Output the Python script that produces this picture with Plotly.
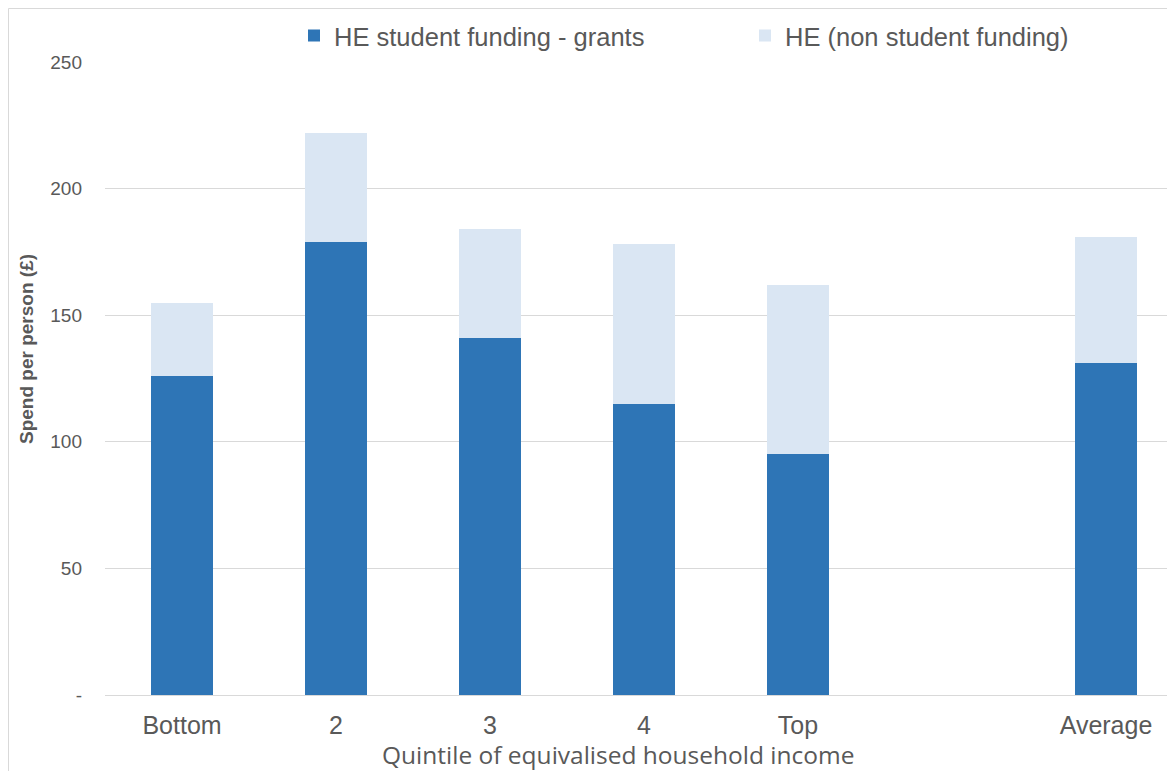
import plotly.graph_objects as go

categories = ["Bottom", "2", "3", "4", "Top", " ", "Average"]
grants = [126, 179, 141, 115, 95, None, 131]
non_student = [29, 43, 43, 63, 67, None, 50]
y_tickvals = [0, 50, 100, 150, 200, 250]
y_ticktext = ["-", "50", "100", "150", "200", "250"]

# page has an 8px body margin; size the figure so the plot lands where the reference has it
OFF = 8
W, H = 1175 - OFF, 771 - OFF
ML, MT, MB = 105 - OFF, 62 - OFF, 76
plot_w = W - ML
plot_h = H - MT - MB


def px_x(page_x):
    return (page_x - OFF - ML) / plot_w


def px_y(page_y):
    return 1 - (page_y - OFF - MT) / plot_h


fig = go.Figure()
fig.add_trace(go.Bar(x=categories, y=grants, name="HE student funding - grants",
                     marker=dict(color="#2E75B6", line=dict(width=0)), legend="legend"))
fig.add_trace(go.Bar(x=categories, y=non_student, name="HE (non student funding)",
                     marker=dict(color="#DAE6F3", line=dict(width=0)), legend="legend2"))

leg_common = dict(orientation="h", yanchor="middle", bgcolor="rgba(0,0,0,0)",
                  font=dict(size=25.5, color="#595959"))
fig.update_layout(
    width=W, height=H,
    barmode="stack", bargap=0.6,
    plot_bgcolor="white", paper_bgcolor="white",
    margin=dict(l=ML, r=0, t=MT, b=MB, pad=0, autoexpand=False),
    font=dict(family="Liberation Sans, Arial", color="#595959", size=19),
    legend=dict(x=px_x(294), xanchor="left", y=px_y(36), **leg_common),
    legend2=dict(x=px_x(745), xanchor="left", y=px_y(36), **leg_common),
    showlegend=True,
)
fig.update_xaxes(
    type="category", range=[-0.5, -0.5 + plot_w / 154],
    showgrid=False, showline=True, linecolor="#d9d9d9", linewidth=1,
    ticks="", tickfont=dict(size=25, color="#595959"), ticklabelstandoff=8,
)
fig.update_yaxes(
    range=[0, 250], tickvals=y_tickvals, ticktext=y_ticktext,
    showgrid=True, gridcolor="#d9d9d9", gridwidth=1, zeroline=False,
    showline=False, ticks="", ticklabelstandoff=22,
    tickfont=dict(size=19, color="#595959"),
)
fig.add_annotation(text="<b>Spend per person (£)</b>", textangle=-90,
                   xref="paper", yref="paper",
                   x=px_x(26), y=px_y(349),
                   xanchor="center", yanchor="middle", showarrow=False,
                   font=dict(family="Liberation Sans, Arial", size=19, color="#595959"))
fig.add_annotation(text="Quintile of equivalised household income",
                   xref="paper", yref="paper",
                   x=px_x(618), y=px_y(754),
                   xanchor="center", yanchor="middle", showarrow=False, borderpad=0,
                   font=dict(family="Open Sans", size=24.5, color="#595959"))
fig.add_shape(type="rect", xref="paper", yref="paper",
              x0=px_x(OFF + 0.5), x1=1.05,
              y0=-0.2, y1=px_y(OFF + 0.5),
              line=dict(color="#d9d9d9", width=1), layer="below")

fig.write_html("out.html")
